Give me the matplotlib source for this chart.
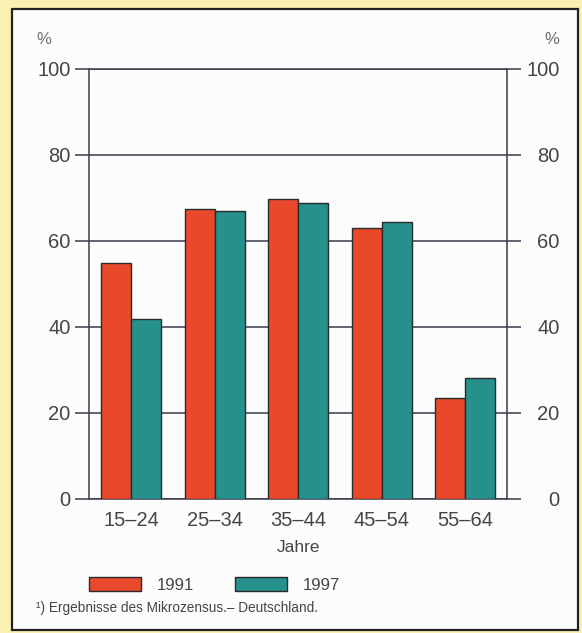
import numpy as np
import matplotlib.pyplot as plt
import matplotlib.transforms as mtransforms
from matplotlib.patches import Rectangle

plt.rcParams["font.family"] = ["Liberation Sans", "DejaVu Sans"]

# Data
age_groups = ["15–24", "25–34", "35–44", "45–54", "55–64"]
share_1991 = [55.0, 67.4, 69.7, 63.1, 23.6]
share_1997 = [41.9, 67.0, 68.8, 64.5, 28.2]
yticks = [0, 20, 40, 60, 80, 100]

red = "#e9482a"
teal = "#25908c"
line_col = "#3a3a4c"
text_col = "#454545"

W, H = 582, 633
fig = plt.figure(figsize=(W / 100, H / 100), dpi=100)
fig.patch.set_facecolor("#f9f1b2")

# white panel with dark frame
fig.patches.append(Rectangle((12 / W, 1 - 630 / H), (578 - 12) / W, (630 - 9) / H,
                             transform=fig.transFigure, facecolor="#fcfcfc",
                             edgecolor="#222222", lw=1.6, zorder=0))

ax = fig.add_axes([89.3 / W, 1 - 499 / H, (507 - 89.3) / W, (499 - 69) / H])
ax.set_zorder(2)
ax.set_facecolor("none")

x = np.arange(len(age_groups))
w = 0.36
b1 = ax.bar(x - w / 2, share_1991, w, color=red, edgecolor="#2a2a2a", lw=1, zorder=3)
b2 = ax.bar(x + w / 2, share_1997, w, color=teal, edgecolor="#2a2a2a", lw=1, zorder=3)

ax.set_xlim(-0.5, 4.5)
ax.set_ylim(0, 100)
ax.set_yticks(yticks)
ax.set_xticks(x)
ax.set_xticklabels(age_groups)
ax.grid(axis="y", color=line_col, lw=1.1, zorder=1)

for s in ax.spines.values():
    s.set_color(line_col)
    s.set_linewidth(1.1)

ax.tick_params(axis="x", length=0, pad=9, labelsize=14.5, labelcolor=text_col)
ax.tick_params(axis="y", left=True, right=True, labelleft=True, labelright=True,
               length=10, width=1.1, color=line_col, direction="out",
               labelsize=14.5, labelcolor=text_col, pad=3.5)

# right-hand labels are right-aligned near the panel edge
offset = mtransforms.ScaledTranslation(34 / 100, 0, fig.dpi_scale_trans)
for t in ax.yaxis.get_major_ticks():
    t.label2.set_horizontalalignment("right")
    t.label2.set_transform(t.label2.get_transform() + offset)

ax.set_xlabel("Jahre", fontsize=12.5, color=text_col, labelpad=7)

fig.text(44 / W, 1 - 40 / H, "%", fontsize=12, color="#707070", ha="center", va="center")
fig.text(552 / W, 1 - 40 / H, "%", fontsize=12, color="#707070", ha="center", va="center")

fig.legend([b1, b2], ["1991", "1997"], loc="center left",
           bbox_to_anchor=(89 / W, 1 - 585 / H), ncol=2, frameon=False,
           fontsize=12, handlelength=3.1, handleheight=0.9, handletextpad=0.95,
           columnspacing=2.5, borderpad=0, borderaxespad=0, labelcolor=text_col)

fig.text(36 / W, 1 - 608 / H, "¹) Ergebnisse des Mikrozensus.– Deutschland.",
         fontsize=9.8, color=text_col, ha="left", va="center")

fig.savefig("out.png", dpi=100, facecolor=fig.get_facecolor())
